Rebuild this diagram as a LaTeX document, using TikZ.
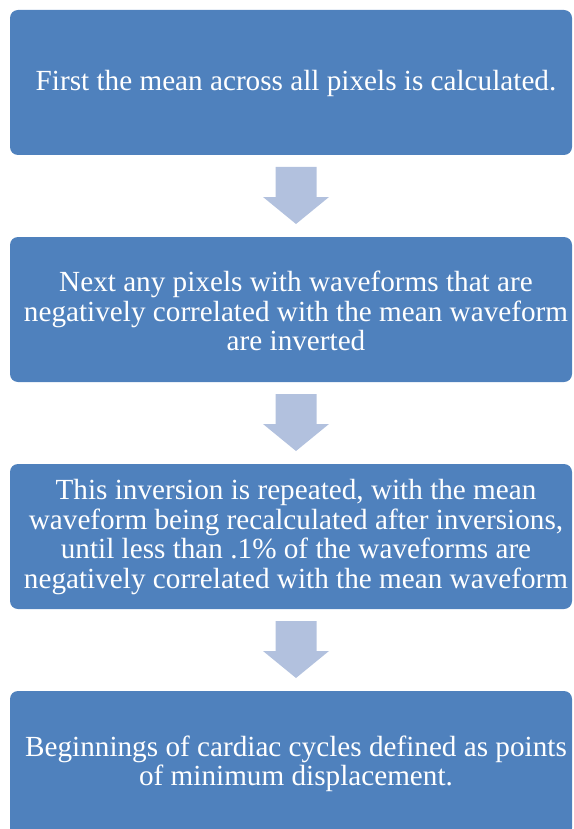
\documentclass[tikz,border=0pt]{standalone}
\usepackage{fontspec}
\setmainfont{Liberation Serif}
\usetikzlibrary{calc}
\definecolor{boxblue}{HTML}{4F81BD}
\definecolor{arrowblue}{HTML}{B2C1DE}
\tikzset{
  stepbox/.style={rectangle, rounded corners=8pt, fill=boxblue, draw=none,
    minimum width=562pt, minimum height=145pt, inner sep=0pt},
  steptext/.style={text=white, align=center, inner sep=0pt,
    font=\fontsize{29.2}{29.5}\selectfont},
  arrowfill/.style={fill=arrowblue, draw=none}
}
\newcommand{\blockarrow}[1]{%
  \fill[arrowfill] ([shift={(-20.5,-29)}]#1) -- ([shift={(20.5,-29)}]#1)
    -- ([shift={(20.5,1)}]#1) -- ([shift={(33,1)}]#1) -- ([shift={(0,28)}]#1)
    -- ([shift={(-33,1)}]#1) -- ([shift={(-20.5,1)}]#1) -- cycle;}
\begin{document}
\begin{tikzpicture}[x=1pt,y=-1pt]
\useasboundingbox (0,0) rectangle (573,829);
\clip (0,0) rectangle (573,829);
\node[stepbox] (b1) at (291,82.5) {};
\node[stepbox] (b2) at (291,309.5) {};
\node[stepbox] (b3) at (291,536.5) {};
\node[stepbox] (b4) at (291,763.5) {};
\node[steptext] (t1) at (296,83) {First the mean across all pixels is calculated.};
\node[steptext] (t2) at (296,311) {Next any pixels with waveforms that are\\negatively correlated with the mean waveform\\are inverted};
\node[steptext] (t3) at (296,537) {This inversion is repeated, with the mean\\waveform being recalculated after inversions,\\until less than .1\% of the waveforms are\\negatively correlated with the mean waveform};
\node[steptext] (t4) at (296,764) {Beginnings of cardiac cycles defined as points\\of minimum displacement.};
\coordinate (m1) at ($(b1.south)!0.5!(b2.north)+(5,0)$);
\coordinate (m2) at ($(b2.south)!0.5!(b3.north)+(5,0)$);
\coordinate (m3) at ($(b3.south)!0.5!(b4.north)+(5,0)$);
\blockarrow{m1}
\blockarrow{m2}
\blockarrow{m3}
\end{tikzpicture}
\end{document}
